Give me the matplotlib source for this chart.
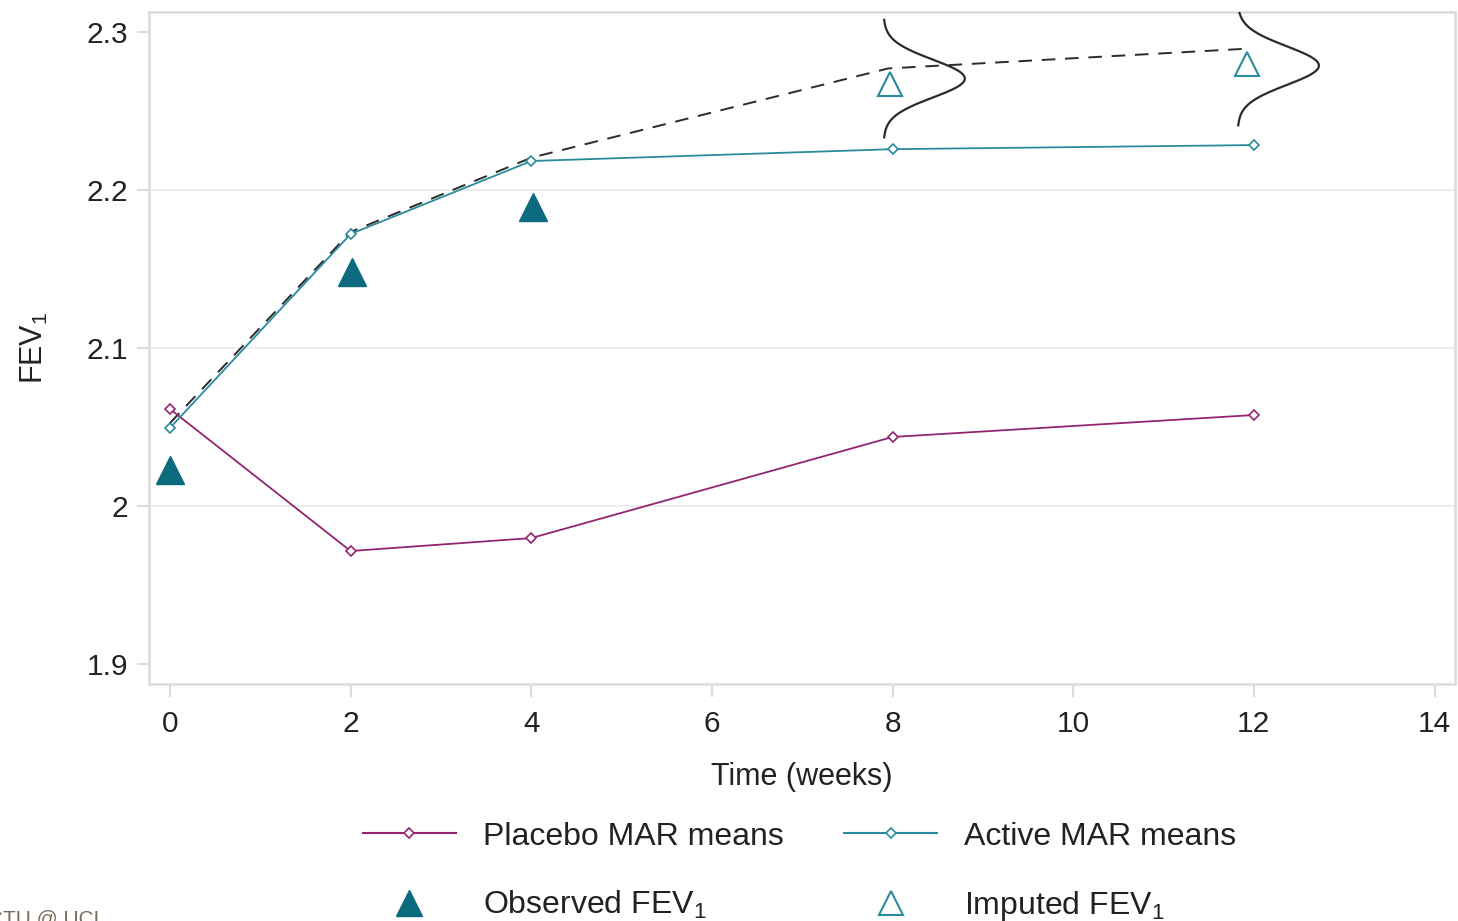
import numpy as np
import matplotlib.pyplot as plt
from matplotlib.lines import Line2D

plt.rcParams['font.family'] = ['Liberation Sans', 'DejaVu Sans']
plt.rcParams['mathtext.fontset'] = 'custom'
plt.rcParams['mathtext.rm'] = 'Liberation Sans'
plt.rcParams['mathtext.default'] = 'regular'

# data
weeks = [0, 2, 4, 8, 12]
placebo_mar = [2.0614, 1.9715, 1.9797, 2.0437, 2.0576]
active_mar = [2.0494, 2.1722, 2.2184, 2.2259, 2.2285]

observed_weeks = [0, 2.02, 4.02]
observed_fev = [2.0225, 2.1480, 2.1895]

imputed_weeks = [7.97, 11.92]
imputed_fev = [2.2670, 2.2800]

path_weeks = [0, 2, 4, 7.95, 11.92]
path_fev = [2.0525, 2.1735, 2.2205, 2.2770, 2.2895]

# imputation distributions (normal densities drawn sideways)
dist_base = [7.90, 11.82]
dist_mean = [2.2706, 2.2788]
dist_sd = [0.0120, 0.0122]
dist_height = [0.90, 0.90]

purple = '#93246f'
teal = '#2a8a9e'
dark_teal = '#0c6a7f'
grey = '#dcdcdc'
txt = '#222222'

fig = plt.figure(figsize=(14.58, 9.21), dpi=100)
ax = fig.add_axes([0.1022, 0.2573, 0.8957, 0.7296])

for b, m, s, h in zip(dist_base, dist_mean, dist_sd, dist_height):
    yy = np.linspace(m - 3.1 * s, m + 3.1 * s, 200)
    xx = b + h * np.exp(-0.5 * ((yy - m) / s) ** 2)
    ax.plot(xx, yy, color='#2b2b2b', lw=1.6, zorder=3)

ax.plot(path_weeks, path_fev, color='#2b2b2b', lw=1.4, dashes=(7, 5), zorder=3)
ax.plot(weeks, placebo_mar, color=purple, lw=1.3, marker='D', ms=5.5,
        mfc='white', mec=purple, mew=1.2, zorder=4)
ax.plot(weeks, active_mar, color=teal, lw=1.3, marker='D', ms=5.5,
        mfc='white', mec=teal, mew=1.2, zorder=4)
ax.plot(observed_weeks, observed_fev, ls='none', marker='^', ms=20,
        color=dark_teal, zorder=5)
ax.plot(imputed_weeks, imputed_fev, ls='none', marker='^', ms=17,
        mfc='none', mec=teal, mew=1.5, zorder=5)

ax.set_xlim(-0.232, 14.226)
ax.set_ylim(1.8873, 2.3127)
ax.set_xticks([0, 2, 4, 6, 8, 10, 12, 14])
ax.set_yticks([1.9, 2.0, 2.1, 2.2, 2.3])
ax.set_yticklabels(['1.9', '2', '2.1', '2.2', '2.3'])
ax.tick_params(axis='both', length=9, width=1.5, color=grey,
               labelsize=21.5, labelcolor=txt, pad=6)
ax.tick_params(axis='x', pad=10)

ax.grid(axis='y', color='#ececec', lw=1.3)
gl = ax.get_ygridlines()
gl[0].set_visible(False)
gl[-1].set_visible(False)
ax.set_axisbelow(True)

for sp in ax.spines.values():
    sp.set_color(grey)
    sp.set_linewidth(1.8)

ax.set_xlabel('Time (weeks)', fontsize=22, color=txt, labelpad=17)
ax.set_ylabel('FEV$_1$', fontsize=22, color=txt, labelpad=26)

handles = [
    Line2D([], [], color=purple, lw=1.5, marker='D', ms=5.5, mfc='white',
           mec=purple, mew=1.2),
    Line2D([], [], ls='none', marker='^', ms=19, color=dark_teal),
    Line2D([], [], color=teal, lw=1.5, marker='D', ms=5.5, mfc='white',
           mec=teal, mew=1.2),
    Line2D([], [], ls='none', marker='^', ms=17, mfc='none', mec=teal,
           mew=1.5),
]
labels = ['Placebo MAR means', 'Observed FEV$_1$',
          'Active MAR means', 'Imputed FEV$_1$']
fig.legend(handles, labels, ncol=2, loc='upper left',
           bbox_to_anchor=(0.249, 0.108), frameon=False, fontsize=23,
           handlelength=2.9, handletextpad=0.85, columnspacing=1.9,
           labelspacing=1.18, borderpad=0, borderaxespad=0,
           labelcolor=txt)

fig.text(0.072, -0.004, 'CTU @ UCL', fontsize=15, color='#7a6c5d',
         ha='right', va='baseline')

fig.savefig('out.png', dpi=100)
